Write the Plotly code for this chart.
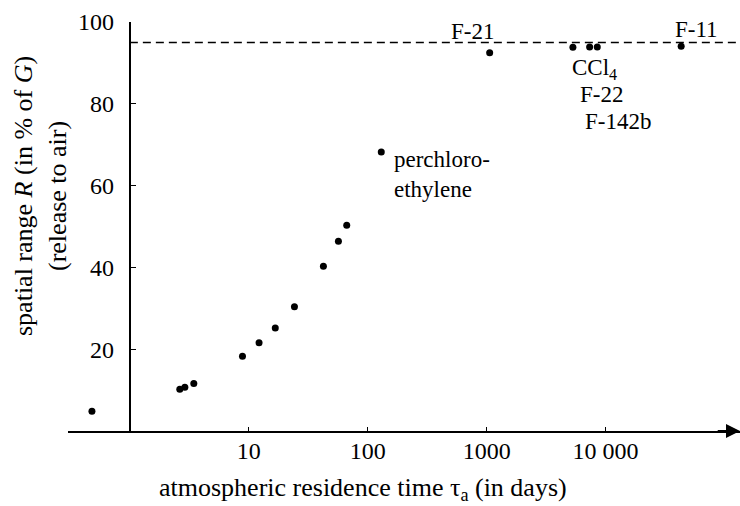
import plotly.graph_objects as go
import math

# ---- data ----
tau_days = [0.48, 2.63, 2.9, 3.45, 8.85, 12.2, 16.7, 24.2, 42.4, 56.7, 66.6,
            130, 1060, 5310, 7340, 8510, 43200]
R_percent = [4.8, 10.2, 10.7, 11.6, 18.3, 21.6, 25.2, 30.4, 40.3, 46.4, 50.3,
             68.2, 92.5, 93.8, 93.9, 93.9, 94.1]
R_limit = 95
x_tickvals = [10, 100, 1000, 10000]
x_ticktext = ["10", "100", "1000", "10 000"]
y_tickvals = [20, 40, 60, 80, 100]

FONT = "Liberation Serif, Times New Roman, serif"
W, H = 740, 506
ML, MR, MT, MB = 68, 0, 22, 75
XR = [-0.52, 5.13]   # log10 range
YR = [0, 100]

def px_x(p):
    return (p - ML) / (W - ML - MR)

def px_y(p):
    return (H - MB - p) / (H - MT - MB)

fig = go.Figure()

# reference line
fig.add_trace(go.Scatter(x=[1, 10 ** XR[1]], y=[R_limit, R_limit], mode="lines",
                         line=dict(color="black", width=1.5, dash="8px,5px"),
                         hoverinfo="skip", showlegend=False, cliponaxis=False))
# points
fig.add_trace(go.Scatter(x=tau_days, y=R_percent, mode="markers",
                         marker=dict(color="black", size=7),
                         showlegend=False, cliponaxis=False))

ann_font = dict(family=FONT, size=23, color="black")
labels = [
    (12, "F-21", -17, 21, "center"),
    (16, "F-11", 15, 17, "center"),
    (13, "CCl<sub>4</sub>", 22, -22, "center"),
    (14, "F-22", 12, -48, "center"),
    (15, "F-142b", 21, -75, "center"),
    (11, "perchloro-<br>ethylene", 11, -22, "left"),
]
for i, txt, dx, dy, xa in labels:
    fig.add_annotation(x=math.log10(tau_days[i]), y=R_percent[i], xref="x", yref="y",
                       text=txt, showarrow=False, xshift=dx, yshift=dy,
                       xanchor=xa, yanchor="middle", align="left", font=ann_font)

# x axis arrow head
fig.add_annotation(x=XR[1], y=0, ax=XR[1] - 0.2, ay=0, xref="x", yref="y",
                   axref="x", ayref="y", text="", showarrow=True,
                   arrowhead=2, arrowsize=1.4, arrowwidth=2, arrowcolor="black",
                   standoff=0)

# axis titles
fig.add_annotation(x=px_x(363), y=px_y(489), xref="paper", yref="paper",
                   text="atmospheric residence time τ<sub>a</sub> (in days)",
                   showarrow=False, xanchor="center", yanchor="middle",
                   font=dict(family=FONT, size=26, color="black"))
fig.add_annotation(x=px_x(41), y=px_y(196), xref="paper", yref="paper",
                   text="spatial range <i>R</i> (in % of <i>G</i>)<br>(release to air)",
                   showarrow=False, textangle=-90, xanchor="center", yanchor="middle",
                   font=dict(family=FONT, size=26, color="black"))

ypos = (0 - XR[0]) / (XR[1] - XR[0])

fig.update_layout(
    width=W, height=H,
    margin=dict(l=ML, r=MR, t=MT, b=MB),
    paper_bgcolor="white", plot_bgcolor="white",
    font=dict(family=FONT, color="black"),
    xaxis=dict(type="log", range=XR, showgrid=False, zeroline=False,
               showline=True, linecolor="black", linewidth=2,
               ticks="inside", ticklen=4, tickcolor="black", tickwidth=1,
               tickvals=x_tickvals, ticktext=x_ticktext,
               tickfont=dict(family=FONT, size=24, color="black"),
               ticklabelstandoff=-3),
    yaxis=dict(range=YR, showgrid=False, zeroline=False,
               anchor="free", position=ypos,
               showline=True, linecolor="black", linewidth=2,
               ticks="inside", ticklen=5, tickcolor="black", tickwidth=1,
               tickvals=y_tickvals,
               tickfont=dict(family=FONT, size=24, color="black"),
               ticklabelstandoff=10),
)

fig.write_html("out.html")
